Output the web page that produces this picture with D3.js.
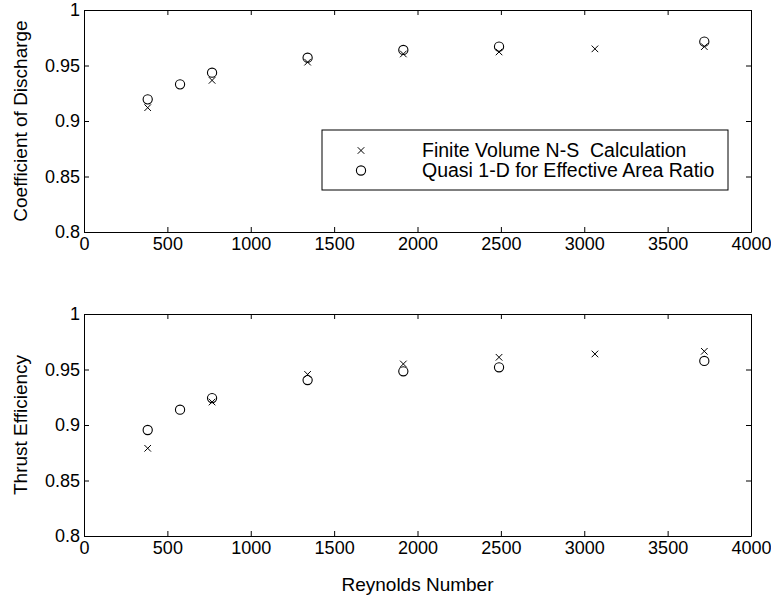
<!DOCTYPE html>
<html>
<head>
<meta charset="utf-8">
<script src="https://cdn.jsdelivr.net/npm/d3@7"></script>
<style>
  body { margin: 0; background: #fff; }
  svg text { font-family: Arial, "Liberation Sans", Helvetica, sans-serif; fill: #000; }
</style>
</head>
<body>
<div id="chart"></div>
<script>
// Reynolds numbers for each series
let reFV = [382, 768, 1341, 1915, 2489, 3064, 3720];
let reQ  = [382, 576, 768, 1341, 1915, 2489, 3720];

// coefficient of discharge
let cdFV = [0.912, 0.9366, 0.953, 0.9604, 0.9622, 0.965, 0.967];
let cdQ  = [0.9195, 0.933, 0.9435, 0.957, 0.964, 0.967, 0.9715];

// thrust efficiency
let etaFV = [0.879, 0.9207, 0.9456, 0.955, 0.961, 0.964, 0.9664];
let etaQ  = [0.8955, 0.9138, 0.9243, 0.9405, 0.9484, 0.952, 0.9577];

let xTicks = [0, 500, 1000, 1500, 2000, 2500, 3000, 3500, 4000];
let yTicks = [0.8, 0.85, 0.9, 0.95, 1];
let legendLabels = ["Finite Volume N-S  Calculation", "Quasi 1-D for Effective Area Ratio"];

const W = 771, H = 598;
const FS = 18;     // tick labels
const LFS = 19;    // axis titles
const legFS = 19.5;
const svg = d3.select("#chart").append("svg")
    .attr("width", W).attr("height", H);

const left = 84, right = 751;
const x = d3.scaleLinear().domain([0, 4000]).range([left, right]);

function panel(top, bottom, ylabel, fv, q, showLegend){
	const y = d3.scaleLinear().domain([0.8, 1]).range([bottom, top]);
	const g = svg.append("g");

	// box with inward ticks on all four sides
	g.append("g").attr("transform", "translate(0," + bottom + ")")
	  .call(d3.axisBottom(x).tickValues(xTicks).tickSizeInner(-5).tickSizeOuter(0).tickPadding(5).tickFormat(d => d));
	g.append("g").attr("transform", "translate(0," + top + ")")
	  .call(d3.axisTop(x).tickValues(xTicks).tickSizeInner(-5).tickSizeOuter(0).tickFormat(""));
	g.append("g").attr("transform", "translate(" + left + ",0)")
	  .call(d3.axisLeft(y).tickValues(yTicks).tickSizeInner(-5).tickSizeOuter(0).tickPadding(4).tickFormat(d => String(d)));
	g.append("g").attr("transform", "translate(" + right + ",0)")
	  .call(d3.axisRight(y).tickValues(yTicks).tickSizeInner(-5).tickSizeOuter(0).tickFormat(""));

	g.selectAll(".tick text").attr("font-size", FS).attr("font-family", null);
	g.selectAll(".domain, .tick line").attr("stroke", "#000").attr("stroke-width", 1);

	g.append("text")
	  .attr("transform", "translate(20," + ((top + bottom) / 2) + ") rotate(-90)")
	  .attr("text-anchor", "middle")
	  .attr("dy", "0.35em")
	  .attr("font-size", LFS)
	  .text(ylabel);

	// crosses
	g.selectAll("path.fv").data(d3.zip(reFV, fv)).enter()
	  .append("path").attr("class", "fv")
	  .attr("d", d3.symbol(d3.symbolX, 30))
	  .attr("transform", d => "translate(" + x(d[0]) + "," + y(d[1]) + ")")
	  .attr("fill", "none").attr("stroke", "#000").attr("stroke-width", 1);

	// circles
	g.selectAll("circle.q").data(d3.zip(reQ, q)).enter()
	  .append("circle").attr("class", "q")
	  .attr("cx", d => x(d[0]))
	  .attr("cy", d => y(d[1]))
	  .attr("r", 4.6)
	  .attr("fill", "none").attr("stroke", "#000").attr("stroke-width", 1.1);

	if(showLegend){
		const lg = g.append("g");
		lg.append("rect").attr("x", 322).attr("y", 130).attr("width", 406).attr("height", 60)
		  .attr("fill", "#fff").attr("stroke", "#000").attr("stroke-width", 1);
		lg.append("path").attr("d", d3.symbol(d3.symbolX, 30))
		  .attr("transform", "translate(361,150.5)")
		  .attr("fill", "none").attr("stroke", "#000");
		lg.append("circle").attr("cx", 361).attr("cy", 170.5).attr("r", 4.6)
		  .attr("fill", "none").attr("stroke", "#000").attr("stroke-width", 1.1);
		lg.selectAll("text").data(legendLabels).enter()
		  .append("text")
		  .attr("x", 422)
		  .attr("y", (d, i) => 150.5 + i * 20)
		  .attr("dy", "0.35em")
		  .attr("font-size", legFS)
		  .attr("xml:space", "preserve")
		  .style("white-space", "pre")
		  .text(d => d);
	}
}

panel(10, 232, "Coefficient of Discharge", cdFV, cdQ, true);
panel(314, 536, "Thrust Efficiency", etaFV, etaQ, false);

svg.append("text")
  .attr("x", (left + right) / 2).attr("y", 591)
  .attr("text-anchor", "middle")
  .attr("font-size", LFS)
  .text("Reynolds Number");
</script>
</body>
</html>
